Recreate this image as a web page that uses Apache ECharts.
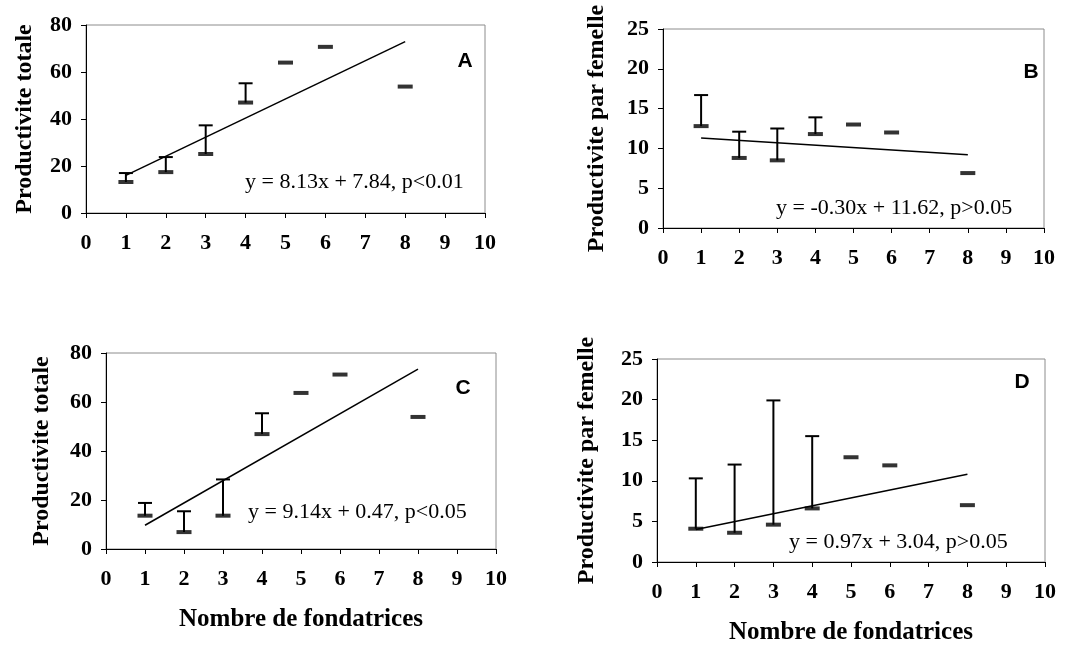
<!DOCTYPE html>
<html>
<head>
<meta charset="utf-8">
<title>Productivite et nombre de fondatrices</title>
<script src="https://cdn.jsdelivr.net/npm/echarts@6/dist/echarts.min.js"></script>
<style>
  html, body { margin: 0; padding: 0; background: #fff; }
  #chart { width: 1068px; height: 646px; }
</style>
</head>
<body>
<div id="chart"></div>
<script>
// nombre de fondatrices
const xValues = [1, 2, 3, 4, 5, 6, 8]
// moyennes (trait epais) et extremite haute de la barre d'erreur (null = pas de barre)
const meanA = [13.2, 17.4, 25.1, 47.0, 64.0, 70.7, 53.8]
const upA = [17.0, 23.8, 37.3, 55.2, null, null, null]
const meanB = [12.8, 8.8, 8.5, 11.8, 13.0, 12.0, 6.9]
const upB = [16.7, 12.1, 12.5, 13.9, null, null, null]
const meanC = [13.6, 6.9, 13.6, 46.9, 63.7, 71.2, 53.9]
const upC = [18.8, 15.4, 28.4, 55.4, null, null, null]
const meanD = [4.1, 3.6, 4.6, 6.6, 12.9, 11.9, 7.0]
const upD = [10.3, 12.0, 19.9, 15.5, null, null, null]
// droites de regression (extremites)
const trendX = [1, 8]
const trendA = [16.0, 72.9]
const trendB = [11.3, 9.2]
const trendC = [9.7, 73.4]
const trendD = [4.0, 10.8]
// textes
const equations = [
  'y = 8.13x + 7.84, p<0.01',
  'y = -0.30x + 11.62, p>0.05',
  'y = 9.14x + 0.47, p<0.05',
  'y = 0.97x + 3.04, p>0.05'
]
const panelLetters = ['A', 'B', 'C', 'D']
const yNames = ['Productivite totale', 'Productivite par femelle', 'Productivite totale', 'Productivite par femelle']
const xName = 'Nombre de fondatrices'

const serif = 'Liberation Serif, Times New Roman, serif'

// position des 4 panneaux
const grids = [
  { left: 86, top: 25, width: 399, height: 188 },
  { left: 663, top: 29, width: 381, height: 199 },
  { left: 106, top: 353, width: 390, height: 196 },
  { left: 657, top: 359, width: 388, height: 205 }
]
const yMax = [80, 25, 80, 25]
const yStep = [20, 5, 20, 5]
const yGap = [49, 54, 52, 58]
const showXName = [false, false, true, true]
const eqPos = [[245, 182], [776, 208], [248, 512], [789, 542]]
const letterPos = [[465, 61], [1031, 72], [463, 388], [1022, 382]]

const means = [meanA, meanB, meanC, meanD]
const ups = [upA, upB, upC, upD]
const trends = [trendA, trendB, trendC, trendD]

const chart = echarts.init(document.getElementById('chart'))

const xAxes = []
const yAxes = []
const series = []
const graphics = []

grids.forEach((g, i) => {
  g.show = true
  g.borderColor = '#8c8c8c'
  g.borderWidth = 1
  g.backgroundColor = '#fff'

  xAxes.push({
    gridIndex: i,
    type: 'value',
    min: 0,
    max: 10,
    interval: 1,
    name: showXName[i] ? xName : '',
    nameLocation: 'middle',
    nameGap: 58,
    nameTextStyle: { fontFamily: serif, fontWeight: 'bold', fontSize: 25, color: '#000' },
    axisLine: { lineStyle: { color: '#000', width: 1 } },
    axisTick: { length: 5, lineStyle: { color: '#000' } },
    splitLine: { show: false },
    axisLabel: { fontFamily: serif, fontWeight: 'bold', fontSize: 22, color: '#000', margin: 19 }
  })

  yAxes.push({
    gridIndex: i,
    type: 'value',
    min: 0,
    max: yMax[i],
    interval: yStep[i],
    name: yNames[i],
    nameLocation: 'middle',
    nameGap: yGap[i],
    nameTextStyle: { fontFamily: serif, fontWeight: 'bold', fontSize: 24, color: '#000' },
    axisLine: { show: true, lineStyle: { color: '#000', width: 1 } },
    axisTick: { show: true, length: 5, lineStyle: { color: '#000' } },
    splitLine: { show: false },
    axisLabel: { fontFamily: serif, fontWeight: 'bold', fontSize: 22, color: '#000', margin: 14 }
  })

  // droite de regression
  series.push({
    type: 'line',
    xAxisIndex: i,
    yAxisIndex: i,
    data: trendX.map((x, k) => [x, trends[i][k]]),
    symbol: 'none',
    lineStyle: { color: '#000', width: 1.5 },
    silent: true,
    z: 3
  })

  // barres d'erreur (vers le haut seulement)
  series.push({
    type: 'custom',
    xAxisIndex: i,
    yAxisIndex: i,
    data: xValues.map((x, k) => [x, means[i][k], ups[i][k]]),
    renderItem: function (params, api) {
      const up = api.value(2)
      if (up === null || isNaN(up)) return
      const p0 = api.coord([api.value(0), api.value(1)])
      const p1 = api.coord([api.value(0), up])
      const style = { stroke: '#000', lineWidth: 2 }
      return {
        type: 'group',
        children: [
          { type: 'line', shape: { x1: p0[0], y1: p0[1], x2: p1[0], y2: p1[1] }, style: style },
          { type: 'line', shape: { x1: p1[0] - 7, y1: p1[1], x2: p1[0] + 7, y2: p1[1] }, style: style }
        ]
      }
    },
    silent: true,
    z: 4
  })

  // moyennes : petit trait horizontal epais
  series.push({
    type: 'scatter',
    xAxisIndex: i,
    yAxisIndex: i,
    data: xValues.map((x, k) => [x, means[i][k]]),
    symbol: 'rect',
    symbolSize: [15, 4],
    itemStyle: { color: '#000' },
    silent: true,
    z: 5
  })

  graphics.push({
    type: 'text',
    x: eqPos[i][0],
    y: eqPos[i][1],
    style: { text: equations[i], font: '22px ' + serif, fill: '#000', textVerticalAlign: 'middle' },
    z: 10
  })
  graphics.push({
    type: 'text',
    x: letterPos[i][0],
    y: letterPos[i][1],
    style: { text: panelLetters[i], font: 'bold 21px Liberation Sans, Arial, sans-serif', fill: '#000', textAlign: 'center', textVerticalAlign: 'middle' },
    z: 10
  })
})

chart.setOption({
  animation: false,
  grid: grids,
  xAxis: xAxes,
  yAxis: yAxes,
  series: series,
  graphic: graphics
})
</script>
</body>
</html>
